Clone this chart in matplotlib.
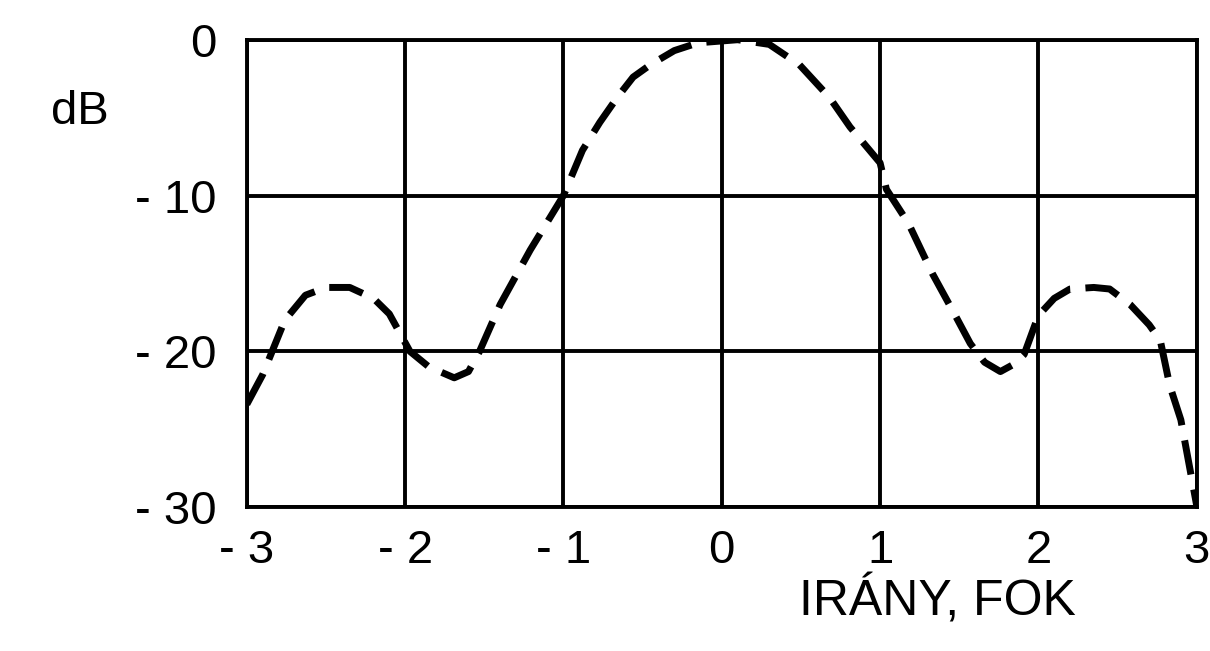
import matplotlib.pyplot as plt

# iránykarakterisztika (dB) a szög függvényében
angle = [-3.0, -2.9, -2.76, -2.63, -2.5, -2.35, -2.2, -2.1, -1.97, -1.85,
         -1.69, -1.6, -1.53, -1.4, -1.21, -1.0, -0.88, -0.77, -0.66, -0.56,
         -0.45, -0.3, -0.15, 0.1, 0.3, 0.49, 0.68, 0.81, 1.0, 1.04,
         1.18, 1.33, 1.47, 1.57, 1.66, 1.76, 1.85, 1.91, 2.0, 2.1,
         2.2, 2.35, 2.45, 2.58, 2.7, 2.77, 2.83, 2.9, 3.0]
level = [-23.4, -21.5, -18.0, -16.4, -15.9, -15.9, -16.6, -17.6, -20.0, -21.0,
         -21.7, -21.3, -20.0, -17.0, -13.5, -10.0, -7.1, -5.3, -3.7, -2.4,
         -1.6, -0.7, -0.2, 0.0, -0.3, -1.6, -3.7, -5.6, -7.9, -9.6,
         -11.8, -15.0, -17.6, -19.5, -20.7, -21.3, -20.8, -20.2, -17.7, -16.6,
         -16.0, -15.9, -16.0, -17.0, -18.3, -19.3, -22.2, -24.4, -29.9]

xticks = [-3, -2, -1, 0, 1, 2, 3]
xticklabels = ['- 3', '- 2', '- 1', '0', '1', '2', '3']
yticks = [0, -10, -20, -30]
yticklabels = ['0', '- 10', '- 20', '- 30']

plt.rcParams['font.family'] = ['Liberation Sans', 'DejaVu Sans']

fig = plt.figure(figsize=(12.1, 6.51), dpi=100)
ax = fig.add_axes([0.204, 0.221, 0.785, 0.718])

ax.plot(angle, level, color='black', lw=5, linestyle=(0, (5, 2.2)),
        solid_capstyle='butt', dash_capstyle='butt', zorder=3)

ax.set_xlim(-3, 3)
ax.set_ylim(-30, 0)
ax.set_xticks(xticks)
ax.set_xticklabels(xticklabels)
ax.set_yticks(yticks)
ax.set_yticklabels(yticklabels)
ax.tick_params(length=0, labelsize=34)
ax.tick_params(axis='x', pad=16)
ax.tick_params(axis='y', pad=22)
ax.grid(True, color='black', lw=2.8)
for s in ax.spines.values():
    s.set_linewidth(2.8)

fig.text(0.066, 0.828, 'dB', fontsize=34, ha='center', va='center')
fig.text(0.775, 0.078, 'IRÁNY, FOK', fontsize=36, ha='center', va='center')

fig.savefig('out.png', dpi=100)
